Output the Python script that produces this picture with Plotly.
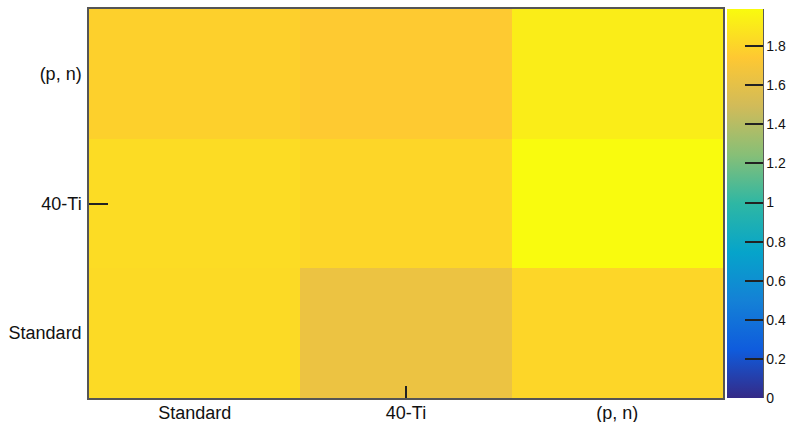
import plotly.graph_objects as go

x_labels = ["Standard", "40-Ti", "(p, n)"]
y_labels = ["Standard", "40-Ti", "(p, n)"]
# rows from bottom (Standard) to top ((p, n))
z_standard = [1.83, 1.64, 1.81]
z_40ti = [1.84, 1.81, 1.99]
z_pn = [1.78, 1.75, 1.92]
z_min, z_max = 0.0, 1.99

# ROOT kBird palette
stops = [0.0, 0.125, 0.25, 0.375, 0.5, 0.625, 0.75, 0.875, 1.0]
red = [0.2082, 0.0592, 0.0780, 0.0232, 0.1802, 0.5301, 0.8186, 0.9956, 0.9764]
green = [0.1664, 0.3599, 0.5041, 0.6419, 0.7178, 0.7492, 0.7328, 0.7862, 0.9832]
blue = [0.5293, 0.8684, 0.8385, 0.7914, 0.6425, 0.4662, 0.3499, 0.1968, 0.0539]
colorscale = [[s, "rgb(%d,%d,%d)" % (round(r * 255), round(g * 255), round(b * 255))]
              for s, r, g, b in zip(stops, red, green, blue)]

idx = list(range(len(x_labels)))
font = dict(family="Liberation Sans, Arial, Helvetica, sans-serif", size=18, color="#111")

FW, FH = 786, 422
L, R, T, B = 89, 723, 9, 398
W = R - L

fig = go.Figure()
fig.add_trace(go.Heatmap(
    x=idx, y=idx, z=[z_standard, z_40ti, z_pn],
    zmin=z_min, zmax=z_max, colorscale=colorscale,
    colorbar=dict(
        x=(727 - L) / W, xanchor="left", y=0.5, yanchor="middle",
        len=1, lenmode="fraction", thickness=36, thicknessmode="pixels",
        xpad=0, ypad=0, outlinewidth=0,
        tick0=0, dtick=0.2, ticks="inside", ticklen=18, tickwidth=1.5,
        tickcolor="#222",
        tickfont=dict(family="Liberation Sans, Arial, sans-serif", size=14, color="#111"),
    ),
    hoverinfo="skip",
))
# empty trace to host the tick-mark axes
fig.add_trace(go.Scatter(x=[], y=[], xaxis="x2", yaxis="y2", showlegend=False))

rng = [-0.5, len(x_labels) - 0.5]
fig.update_layout(
    width=FW, height=FH,
    margin=dict(l=L, r=FW - R, t=T, b=FH - B, autoexpand=False),
    paper_bgcolor="white", plot_bgcolor="white",
    font=font,
    showlegend=False,
    xaxis=dict(range=rng, tickvals=idx, ticktext=x_labels, ticks="",
               showgrid=False, zeroline=False, showline=True, mirror=True,
               linecolor="#555", linewidth=1.5, tickfont=font,
               ticklabelstandoff=-2),
    yaxis=dict(range=rng, tickvals=idx, ticktext=y_labels, ticks="",
               showgrid=False, zeroline=False, showline=True, mirror=True,
               linecolor="#555", linewidth=1.5, tickfont=font,
               ticklabelstandoff=2),
    xaxis2=dict(range=rng, overlaying="x", anchor="y2", side="bottom",
                tickvals=[1], showticklabels=False, ticks="inside", ticklen=12,
                tickwidth=1.5, tickcolor="#222", showgrid=False, zeroline=False,
                showline=False),
    yaxis2=dict(range=rng, overlaying="y", anchor="x2", side="left",
                tickvals=[1, 2.5], showticklabels=False, ticks="inside", ticklen=19,
                tickwidth=1.5, tickcolor="#222", showgrid=False, zeroline=False,
                showline=False),
    shapes=[dict(type="line", xref="paper", yref="paper",
                 x0=(763 - L) / W, x1=(763 - L) / W, y0=0, y1=1,
                 line=dict(color="#222", width=1.5))],
)

fig.write_html(
    "out.html",
    config={"displayModeBar": False},
    post_script="document.body.style.margin='0';"
                "document.documentElement.style.overflow='hidden';",
)
